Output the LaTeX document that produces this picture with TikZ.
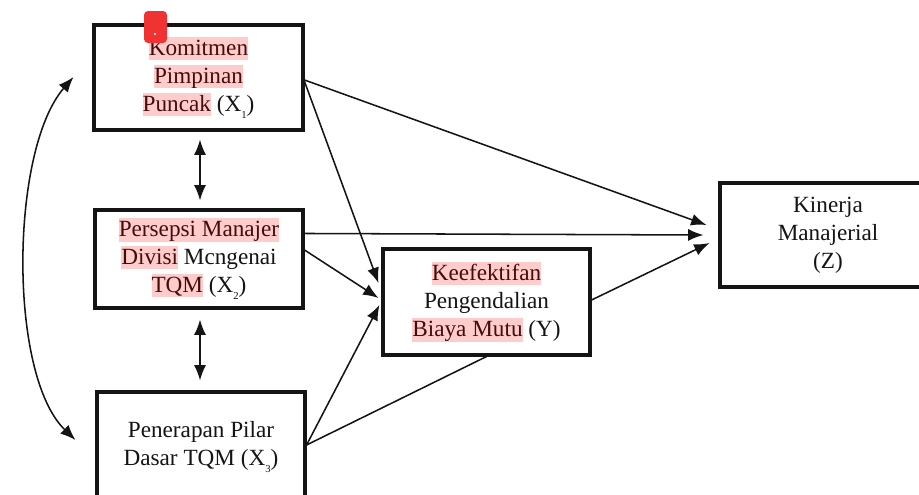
\documentclass[tikz,border=0pt]{standalone}
\usepackage{fontspec}
\setmainfont{Liberation Serif}
\usetikzlibrary{arrows.meta,calc}
\definecolor{hlpink}{RGB}{255,204,204}
\definecolor{hltext}{RGB}{70,12,12}
\definecolor{ink}{RGB}{20,20,20}
\definecolor{marker}{RGB}{240,50,50}
\newcommand\hlw[1]{{\setlength\fboxsep{0pt}\colorbox{hlpink}{\rule[-0.2em]{0pt}{1.0em}\textcolor{hltext}{#1}}}}
\newcommand\sbx[1]{\raisebox{-0.3em}{\fontsize{8}{8}\selectfont #1}}
\begin{document}
\begin{tikzpicture}[x=0.75pt,y=-0.75pt,
  box/.style={draw=ink,line width=2.3pt,rectangle,align=center,
    font=\fontsize{17.4}{21}\selectfont,text=ink,inner sep=0pt},
  conn/.style={draw=ink,line width=1.15pt},
  arr/.style={conn,-{Latex[length=11.5pt,width=9pt]}},
  darr/.style={conn,{Latex[length=11.5pt,width=9pt]}-{Latex[length=11.5pt,width=9pt]}}]
\path[use as bounding box] (0,0) rectangle (919,494);
\fill[white] (0,0) rectangle (919,494);
\clip (0,0) rectangle (919,494);

\node[box,minimum width=156.75pt,minimum height=78.75pt] (x1) at (198.5,77.5)
  {\hlw{Komitmen}\\ \hlw{Pimpinan}\\ \hlw{Puncak} (X\sbx{1})};
\node[box,minimum width=156pt,minimum height=73.5pt] (x2) at (199,259)
  {\hlw{Persepsi Manajer}\\ \hlw{Divisi} Mcngenai\\ \hlw{TQM} (X\sbx{2})};
\node[box,minimum width=156pt,minimum height=82.5pt] (x3) at (201,447)
  {Penerapan Pilar\\ Dasar TQM (X\sbx{3})};
\node[box,minimum width=155.25pt,minimum height=79.5pt] (y) at (486.5,302)
  {\hlw{Keefektifan}\\ Pengendalian\\ \hlw{Biaya Mutu} (Y)};
\node[box,minimum width=162pt,minimum height=78pt] (z) at (828,235)
  {Kinerja\\ Manajerial\\ (Z)};

% red marker
\fill[marker,rounded corners=3pt] (144,11) rectangle (167,43);
\fill[white] (155,34) circle (0.9pt);

% left curved double arrow
\coordinate (ct) at ($(x1.west)+(-19,-0.5)$);
\coordinate (cb) at ($(x3.west)+(-20,-7)$);
\draw[darr] (ct) .. controls (10,150) and (8,375) .. (cb);

% vertical double arrows
\draw[darr] ($(x1.south)+(1.5,8)$) -- ($(x2.north)+(1,-8)$);
\draw[darr] ($(x2.south)+(1,10)$) -- ($(x3.north)+(-1,-10)$);

% paths to Z
\draw[arr] ($(x1.east)+(0,2.5)$) -- ($(z.west)+(-12,-10)$);
\draw[arr] ($(x2.north east)+(0,25)$) -- ($(z.west)+(-15,0)$);
\draw[arr] ($(y.east)+(0,-2)$) -- ($(z.west)+(-9,8)$);

% paths to Y
\draw[arr] ($(x1.east)+(0,4)$) -- ($(y.west)+(-3,-19)$);
\draw[arr] ($(x2.east)+(0,-9)$) -- ($(y.west)+(-3,-4)$);
\draw[arr] ($(x3.east)+(0,-2)$) -- ($(y.west)+(-2,3)$);

% X3 line meeting the bottom of Y
\draw[conn] ($(x3.east)+(0,-2)$) -- (y.south);
\end{tikzpicture}
\end{document}
